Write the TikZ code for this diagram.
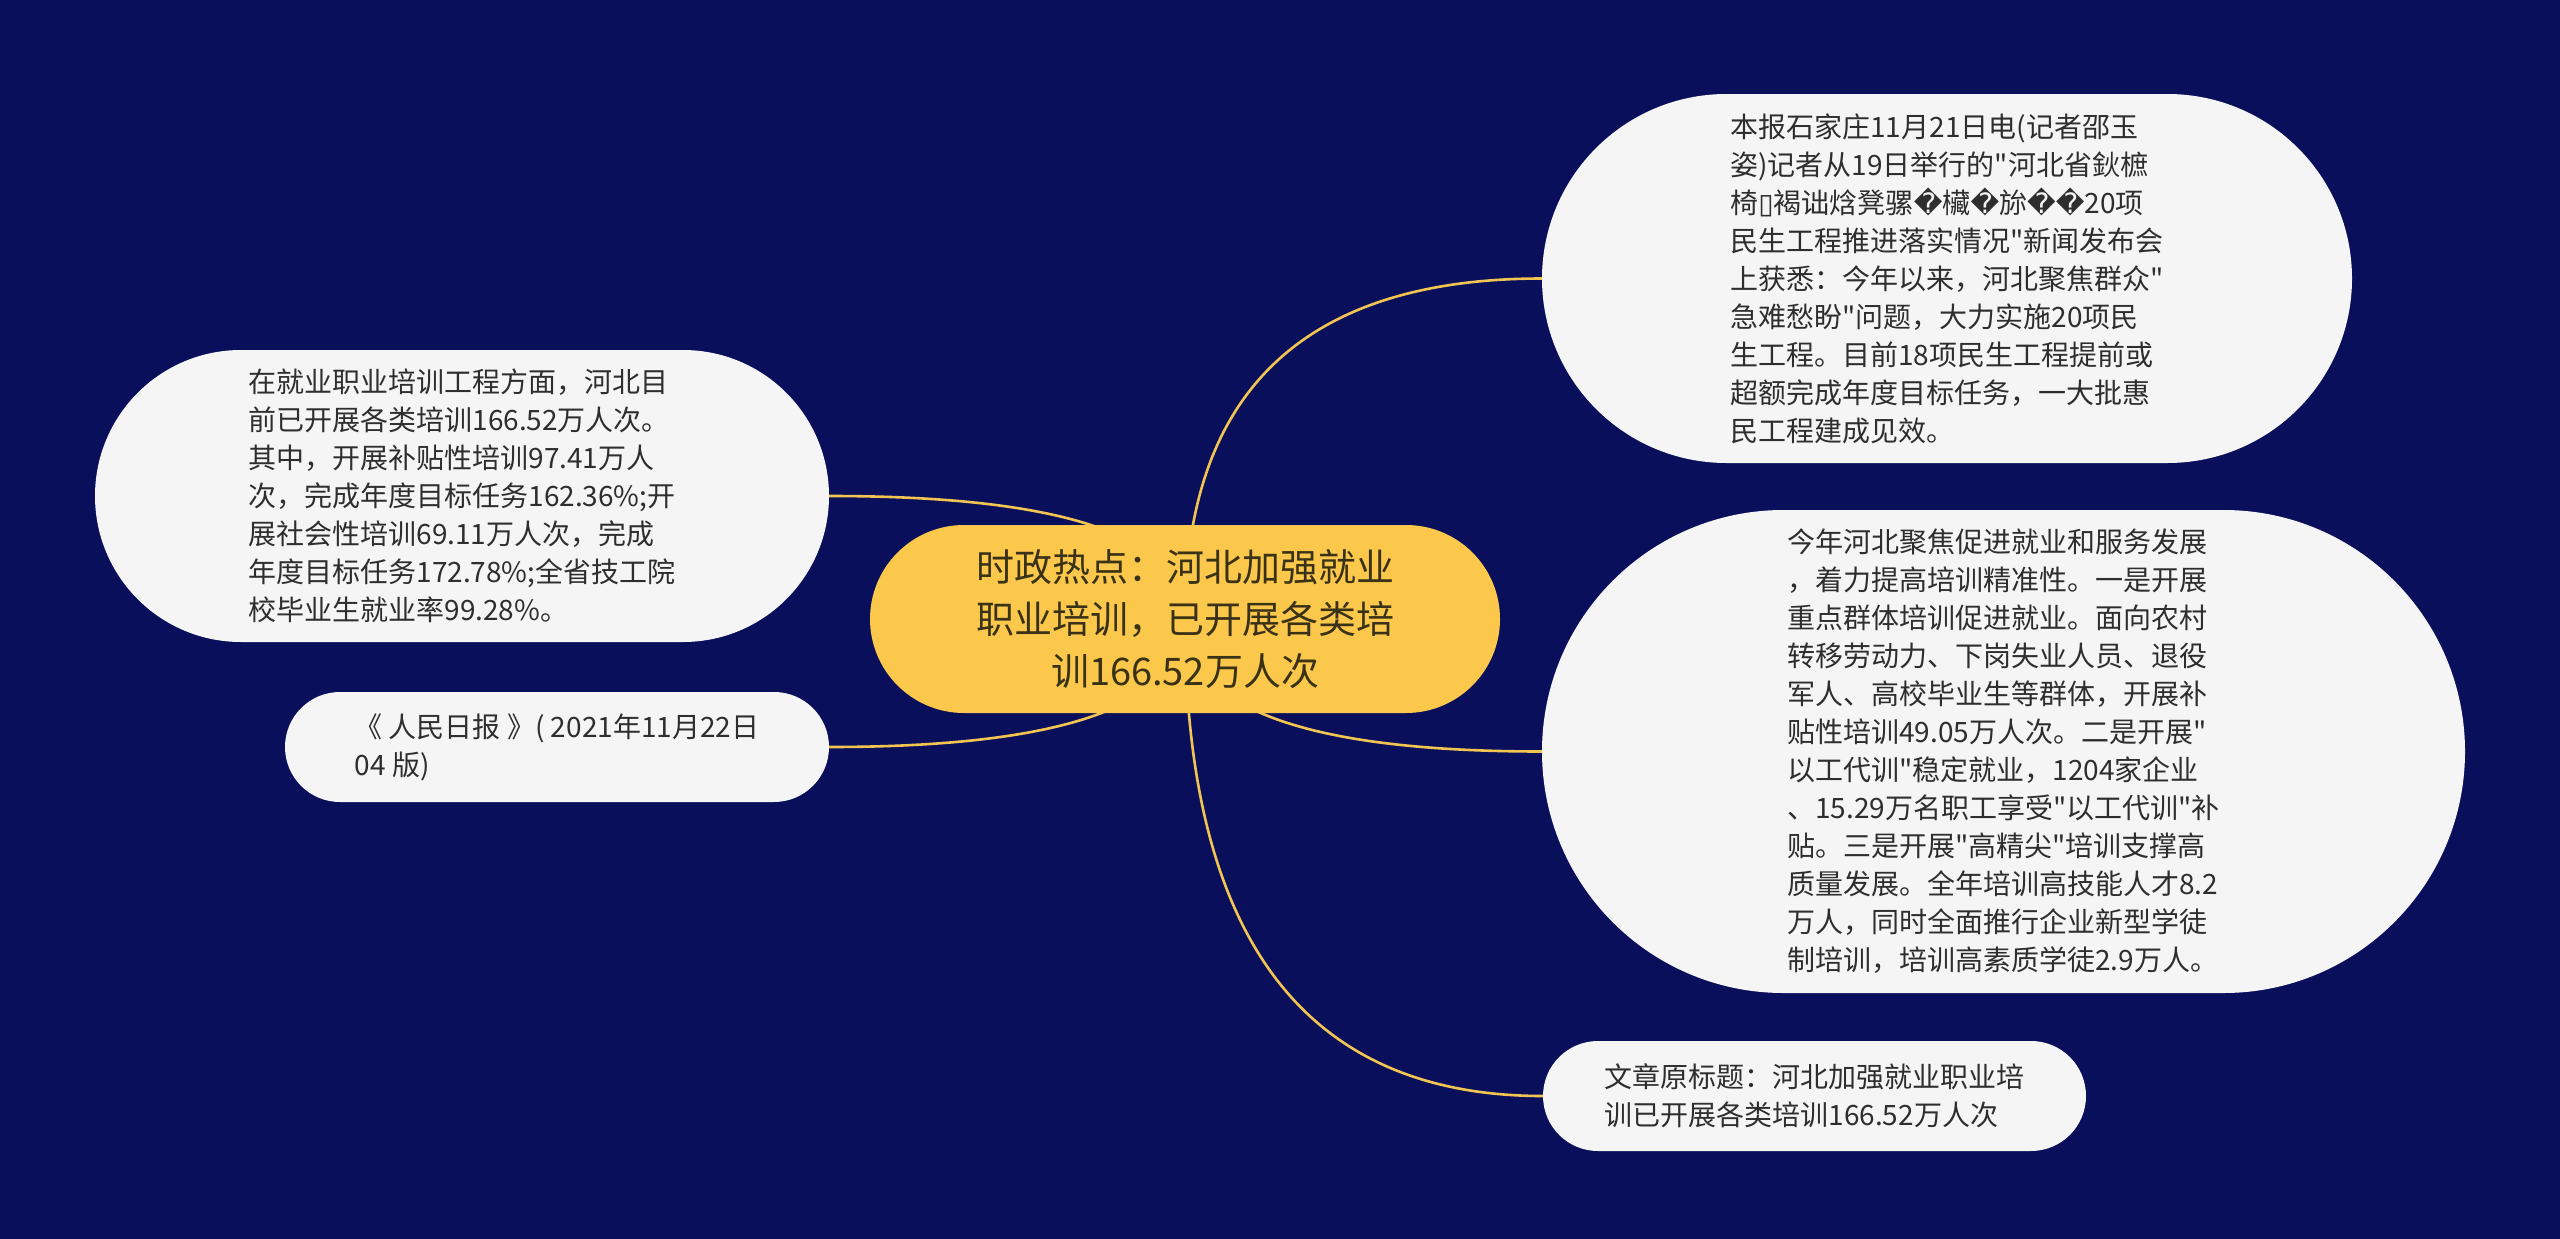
\documentclass[tikz,border=0pt]{standalone}
\usepackage{fontspec}
\newfontfamily\cjk{Noto Sans CJK SC}
\newfontfamily\dejavu{DejaVu Sans}
\usetikzlibrary{calc}
\definecolor{bgnavy}{HTML}{0A0F5C}
\definecolor{bubblefill}{HTML}{F5F5F5}
\definecolor{rootfill}{HTML}{FCC84C}
\definecolor{roottext}{HTML}{3A3217}
\definecolor{linkcol}{HTML}{F2C552}
\definecolor{bodytext}{HTML}{2E2E2E}
\pgfdeclarelayer{bglayer}
\pgfdeclarelayer{linklayer}
\pgfsetlayers{bglayer,linklayer,main}
\newcommand\mmlink[2]{%
  \draw[link] (#1.center) .. controls ($(#1.center)!2/3!(#1.center |- #2)$)
    and ($(#2)!2/3!(#1.center |- #2)$) .. (#2);}
\newcommand\bad{{\dejavu\char"FFFD}}
\begin{document}
\begin{tikzpicture}[x=1pt,y=-1pt,
  bubble/.style={fill=bubblefill, text=bodytext, align=left, inner sep=0pt,
    font=\cjk\fontsize{28}{38}\selectfont},
  rootnode/.style={fill=rootfill, text=roottext, align=center, inner sep=0pt,
    font=\cjk\fontsize{38}{52}\selectfont},
  link/.style={draw=linkcol, line width=2.6pt}]
\useasboundingbox (0,0) rectangle (2560,1239);
\begin{pgfonlayer}{bglayer}
\fill[bgnavy] (0,0) rectangle (2560,1239);
\end{pgfonlayer}

\node[rootnode, minimum width=630pt, minimum height=188pt, rounded corners=94pt] (root) at (1185,619)
  {时政热点：河北加强就业\\职业培训，已开展各类培\\训166.52万人次};

\node[bubble, minimum width=810pt, minimum height=369pt, rounded corners=184.5pt] (tr) at (1947,278.5)
  {本报石家庄11月21日电(记者邵玉\\
   姿)记者从19日举行的"河北省鈥樜\\
   椅{\dejavu ▯}褐诎焓凳骡\bad 欌\bad 旀\bad\bad 20项\\
   民生工程推进落实情况"新闻发布会\\
   上获悉：今年以来，河北聚焦群众"\\
   急难愁盼"问题，大力实施20项民\\
   生工程。目前18项民生工程提前或\\
   超额完成年度目标任务，一大批惠\\
   民工程建成见效。};

\node[bubble, minimum width=923pt, minimum height=483pt, rounded corners=241.5pt] (mr) at (2003.5,751.5)
  {今年河北聚焦促进就业和服务发展\\
   ，着力提高培训精准性。一是开展\\
   重点群体培训促进就业。面向农村\\
   转移劳动力、下岗失业人员、退役\\
   军人、高校毕业生等群体，开展补\\
   贴性培训49.05万人次。二是开展"\\
   以工代训"稳定就业，1204家企业\\
   、15.29万名职工享受"以工代训"补\\
   贴。三是开展"高精尖"培训支撑高\\
   质量发展。全年培训高技能人才8.2\\
   万人，同时全面推行企业新型学徒\\
   制培训，培训高素质学徒2.9万人。};

\node[bubble, minimum width=543pt, minimum height=110pt, rounded corners=55pt] (tt) at (1814.5,1096)
  {文章原标题：河北加强就业职业培\\训已开展各类培训166.52万人次};

\node[bubble, minimum width=734pt, minimum height=292pt, rounded corners=146pt] (lf) at (462,496)
  {在就业职业培训工程方面，河北目\\
   前已开展各类培训166.52万人次。\\
   其中，开展补贴性培训97.41万人\\
   次，完成年度目标任务162.36\%;开\\
   展社会性培训69.11万人次，完成\\
   年度目标任务172.78\%;全省技工院\\
   校毕业生就业率99.28\%。};

\node[bubble, minimum width=544pt, minimum height=110pt, rounded corners=55pt] (src) at (557,747)
  {《 人民日报 》( 2021年11月22日\\04 版)};

\begin{pgfonlayer}{linklayer}
\mmlink{root}{tr.west}
\mmlink{root}{mr.west}
\mmlink{root}{tt.west}
\mmlink{root}{lf.east}
\mmlink{root}{src.east}
\end{pgfonlayer}
\end{tikzpicture}
\end{document}
